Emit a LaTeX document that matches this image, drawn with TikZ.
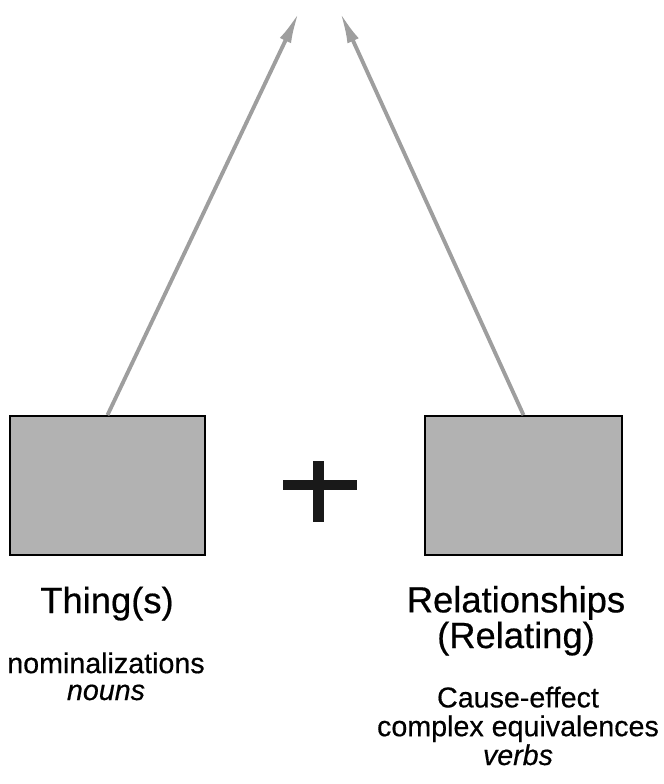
\documentclass[tikz,border=0pt]{standalone}
\usepackage{fontspec}
\setmainfont{Liberation Sans}[FakeBold=0.5]
\usepackage{tikz}
\usetikzlibrary{arrows.meta, positioning}

\begin{document}
\begin{tikzpicture}[
        x=0.02cm, y=-0.02cm,
        % box styles
        greybox/.style={draw=black, line width=1.1pt, fill=black!30,
                        minimum width=3.9cm, minimum height=2.78cm,
                        inner sep=0pt},
        % text styles (base = baseline of last line)
        title/.style={align=center, anchor=base, inner sep=0pt,
                      font=\fontsize{20.7}{18.7}\selectfont},
        subtxt/.style={align=center, anchor=base, inner sep=0pt,
                       font=\fontsize{16.3}{16.4}\selectfont},
        uparr/.style={-{Latex[length=18pt, width=7pt]}, line width=2.2pt,
                      draw=black!38},
        plusbar/.style={line width=6.2pt, draw=black!90},
    ]
        \useasboundingbox (0,0) rectangle (663,784);

        %% -- boxes --
        \node[greybox]                 (things) at (107.5,485.5) {};
        \node[greybox, minimum width=3.94cm] (rels) at (523.5,485.5) {};

        %% -- arrow tips (top) --
        \coordinate (tipL) at (299,12);
        \coordinate (tipR) at (340,12);

        \draw[uparr] (things.north) -- (tipL);
        \draw[uparr] (rels.north)   -- (tipR);

        %% -- plus sign --
        \draw[plusbar] (283,485) -- (357,485);
        \draw[plusbar] (318.5,461) -- (318.5,522);

        %% -- labels --
        \node[title]  (thinglbl) at (107,613) {Thing(s)};
        \node[title]  (rellbl)   at (516,648) {Relationships\\(Relating)};

        \node[subtxt, font=\fontsize{16.3}{15.3}\selectfont]
                      (thingsub) at (106,700) {nominalizations\\\textit{nouns}};
        \node[subtxt] (relsub)   at (518,765)
                      {Cause-effect\\complex equivalences\\\textit{verbs}};

    \end{tikzpicture}
\end{document}
